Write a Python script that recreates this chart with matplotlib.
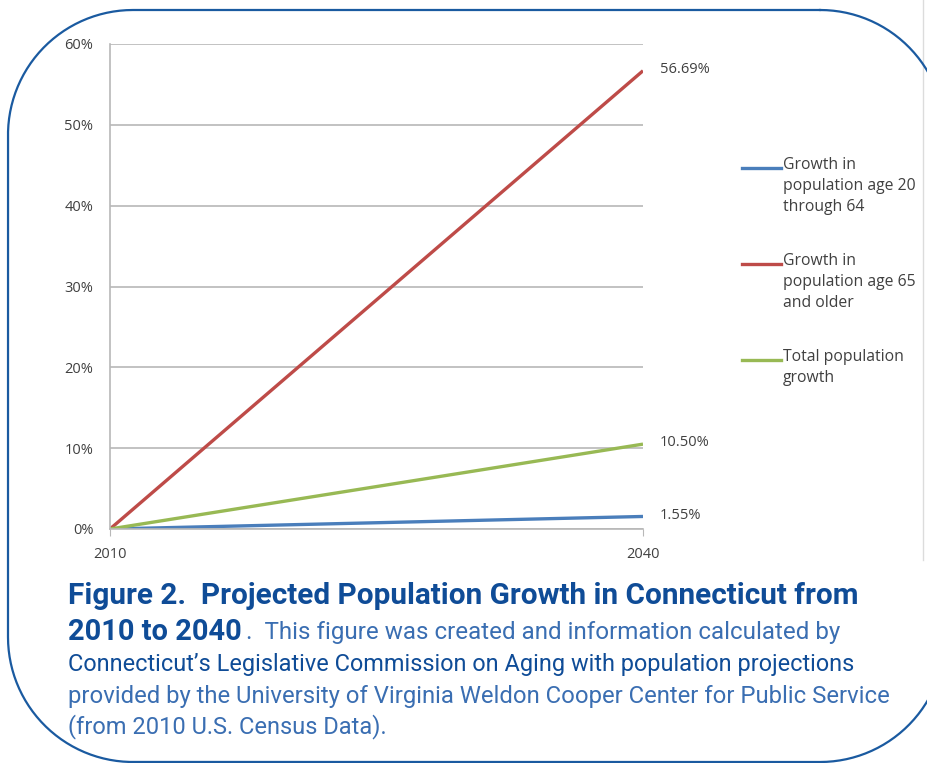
import matplotlib
matplotlib.use('Agg')
import matplotlib.pyplot as plt
import numpy as np
from matplotlib.lines import Line2D
from matplotlib.transforms import IdentityTransform

years = [2010, 2040]
growth_20_64 = [0.0, 1.55]
growth_65_up = [0.0, 56.69]
growth_total = [0.0, 10.50]
series_names = ['Growth in\npopulation age 20\nthrough 64',
                'Growth in\npopulation age 65\nand older',
                'Total population\ngrowth']
end_labels = ['1.55%', '56.69%', '10.50%']
y_ticks = [0, 10, 20, 30, 40, 50, 60]

W, H = 927, 763
chart_font = ['Open Sans', 'DejaVu Sans']
cap_font = ['Roboto', 'DejaVu Sans']

fig = plt.figure(figsize=(W / 100, H / 100), dpi=100)
fig.patch.set_facecolor('white')
renderer = fig.canvas.get_renderer()

def px(x, y):
    return x / W, 1 - y / H

def fit_text(x0, x1, y, s, size, **kw):
    # place text, then adjust the size so it spans x0..x1 pixels
    txt = fig.text(*px(x0, y), s, fontsize=size, va='center', ha='left', **kw)
    w = txt.get_window_extent(renderer).width
    txt.set_fontsize(size * (x1 - x0) / w)
    return txt

# plot area
l, t, r, b = 110, 44, 643, 529
ax = fig.add_axes([l / W, 1 - b / H, (r - l) / W, (b - t) / H])
colors = ['#4a7ebb', '#be4b48', '#98b954']
all_series = [growth_20_64, growth_65_up, growth_total]
for vals, c, name in zip(all_series, colors, series_names):
    ax.plot(years, vals, color=c, lw=2.4, label=name, solid_capstyle='butt')
for vals, lab in zip(all_series, end_labels):
    ax.annotate(lab, (years[1], vals[1]), xytext=(12, 1), textcoords='offset points',
                va='center', ha='left', fontsize=10.5, color='#404040', family=chart_font)

ax.set_xlim(2010, 2040)
ax.set_ylim(0, 60)
ax.set_yticks(y_ticks)
ax.set_yticklabels([f'{v}%' for v in y_ticks])
ax.set_xticks(years)
ax.yaxis.grid(True, color='#b8b8b8', lw=1.2)
ax.set_axisbelow(True)
for s in ['top', 'right']:
    ax.spines[s].set_visible(False)
for s in ['left', 'bottom']:
    ax.spines[s].set_color('#b8b8b8')
    ax.spines[s].set_linewidth(1.2)
ax.tick_params(axis='y', length=0, pad=12, labelsize=10.5, labelcolor='#404040')
ax.tick_params(axis='x', length=5, color='#b8b8b8', pad=8, labelsize=10.5, labelcolor='#404040')
for lab in ax.get_xticklabels() + ax.get_yticklabels():
    lab.set_family(chart_font)

# legend drawn by hand on the figure
leg_y = [168, 264, 360]
for yy, c, name in zip(leg_y, colors, series_names):
    fig.add_artist(Line2D([742 / W, 781 / W], [1 - yy / H] * 2, color=c, lw=2.4))
    fig.text(783 / W, 1 - (yy - 11) / H, name, va='top', ha='left', fontsize=11.3,
             color='#404040', family=chart_font, linespacing=1.4)

# thin gray edge of the original image
fig.add_artist(Line2D([923 / W, 923 / W], [1 - 560 / H, 1], color='#dcdcdc', lw=1))

# caption
dark = '#0f4c97'
light = '#3a6eb2'
fit_text(68, 860, 596, 'Figure 2.  Projected Population Growth in Connecticut from', 19,
         fontweight='bold', color=dark, family=cap_font)
fit_text(68, 242, 632, '2010 to 2040', 19, fontweight='bold', color=dark, family=cap_font)
fit_text(246, 840, 632, '.  This figure was created and information calculated by', 15,
         color=light, family=cap_font)
fit_text(68, 855, 665, 'Connecticut\u2019s Legislative Commission on Aging with population projections', 15,
         color=dark, family=cap_font)
fit_text(68, 893, 697, 'provided by the University of Virginia Weldon Cooper Center for Public Service', 15,
         color=light, family=cap_font)
fit_text(68, 388, 727, '(from 2010 U.S. Census Data).', 15, color=light, family=cap_font)

# rounded blue frame, built in pixel coordinates (y measured from top)
fx0, fx1, fy0, fy1, rad = 8, 945, 10, 762, 125
corners = [(fx1 - rad, fy0 + rad, -90, 0), (fx1 - rad, fy1 - rad, 0, 90),
           (fx0 + rad, fy1 - rad, 90, 180), (fx0 + rad, fy0 + rad, 180, 270)]
xs, ys = [], []
for cx, cy, a0, a1 in corners:
    ang = np.radians(np.linspace(a0, a1, 60))
    xs.extend(cx + rad * np.cos(ang))
    ys.extend(cy + rad * np.sin(ang))
xs.append(xs[0])
ys.append(ys[0])
fig.add_artist(Line2D(np.array(xs), H - np.array(ys), transform=IdentityTransform(),
                      color='#1a5aa0', lw=1.6))

fig.savefig('out.png', dpi=100, facecolor='white')
